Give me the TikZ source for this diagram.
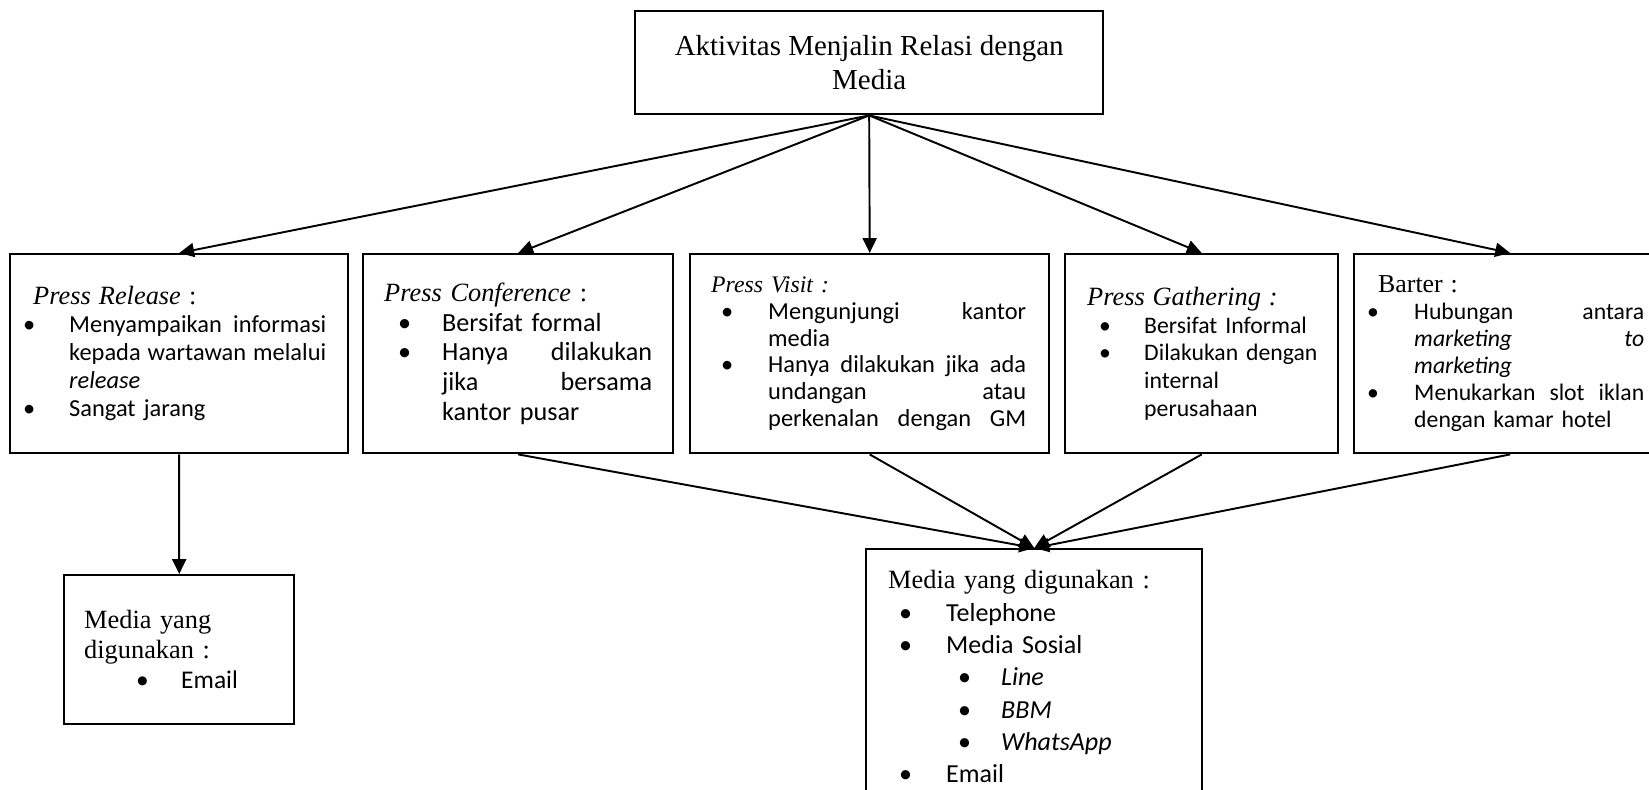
\documentclass[tikz,border=0pt]{standalone}
\usepackage{fontspec}
\setmainfont{Liberation Serif}
\newfontfamily\bodyfont{Carlito}
\usepackage{tikz}
\usetikzlibrary{arrows.meta,positioning}
\newlength{\pxu}
\setlength{\pxu}{0.02cm}
\hyphenpenalty=10000
\exhyphenpenalty=10000
% heading line of a box, and one bullet item (offset, gap, column width in px)
\newcommand{\hdr}[2][15]{\noindent{\rmfamily\fontsize{#1}{#1}\selectfont #2}\par}
\newcommand{\itm}[4]{{\let\\\newline
  \leftskip=\dimexpr#1\pxu+#2\pxu\relax
  \rightskip=\dimexpr\hsize-#1\pxu-#2\pxu-#3\pxu\relax
  \parfillskip=0pt plus 1fil
  \noindent\llap{\makebox[#2\pxu][l]{\textbullet}}#4\par}}
\tikzset{
  >={Triangle[length=8.5pt,width=8pt]},
}

\begin{document}
\begin{tikzpicture}[
  x=0.02cm, y=-0.02cm,
  box/.style={draw, line width=1.4pt, anchor=north west, inner ysep=0pt, align=left},
  arr/.style={->, line width=1.1pt}
]
\useasboundingbox (0,0) rectangle (1649,790);

\node[box, align=center, minimum width=9.36cm, minimum height=2.06cm,
  font=\fontsize{16.5}{19}\selectfont] (top) at (634,10)
  {Aktivitas Menjalin Relasi dengan\\Media};

% the five activities
\node[box, text width=6.24cm, inner xsep=0.26cm, minimum height=3.98cm,
  font=\bodyfont\fontsize{13.9}{15.9}\selectfont] (pr) at (9,253) {%
  \hdr{\hspace*{10\pxu}\textit{Press Release} :}
  \itm{0}{46}{257}{Menyampaikan\hfill informasi\\ kepada\hfill wartawan\hfill melalui\\ \textit{release}}
  \itm{0}{46}{257}{Sangat jarang}};
\node[box, text width=5.36cm, inner xsep=0.42cm, minimum height=3.98cm,
  font=\bodyfont\fontsize{14.9}{17}\selectfont] (pc) at (362,253) {%
  \hdr{\textit{Press Conference} :}
  \itm{14}{44}{210}{Bersifat formal}
  \itm{14}{44}{210}{Hanya\hfill dilakukan\\ jika\hfill bersama\\ kantor pusar}};
\node[box, text width=6.34cm, inner xsep=0.42cm, minimum height=3.98cm,
  font=\bodyfont\fontsize{13.9}{15.3}\selectfont] (pv) at (689,253) {%
  \hdr[13.5]{\textit{Press Visit :}}
  \itm{10}{47}{258}{Mengunjungi\hfill kantor\\ media}
  \itm{10}{47}{258}{Hanya\hfill dilakukan\hfill jika\hfill ada\\ undangan\hfill atau\\ perkenalan\hfill dengan\hfill GM}};
\node[box, text width=4.58cm, inner xsep=0.44cm, minimum height=3.98cm,
  font=\bodyfont\fontsize{13.5}{15.9}\selectfont] (pg) at (1064,253) {%
  \hdr{\textit{Press Gathering :}}
  \itm{12}{45}{180}{Bersifat Informal}
  \itm{12}{45}{180}{Dilakukan dengan\\ internal\\ perusahaan}};
\node[box, text width=5.72cm, inner xsep=0.26cm, minimum height=3.98cm,
  font=\bodyfont\fontsize{13.5}{15.3}\selectfont] (bt) at (1353,253) {%
  \hdr[14.7]{\hspace*{11\pxu}Barter :}
  \itm{0}{47}{230}{Hubungan\hfill antara\\ \textit{marketing}\hfill \textit{to}\\ \textit{marketing}}
  \itm{0}{47}{230}{Menukarkan\hfill slot\hfill iklan\\ dengan kamar hotel}};

% media used
\node[box, text width=3.8cm, inner xsep=0.4cm, minimum height=2.98cm,
  font=\bodyfont\fontsize{14.5}{17}\selectfont] (em1) at (63,574) {%
  \hdr{Media yang}
  \hdr{digunakan :}
  \itm{52}{45}{90}{Email}};
\node[box, text width=5.84cm, inner xsep=0.44cm, minimum height=5.1cm,
  font=\bodyfont\fontsize{14.8}{18.4}\selectfont] (em2) at (865,548) {%
  \hdr{Media yang digunakan :}
  \itm{11}{47}{230}{Telephone}
  \itm{11}{47}{230}{Media Sosial}
  \itm{70}{43}{170}{\textit{Line}}
  \itm{70}{43}{170}{\textit{BBM}}
  \itm{70}{43}{170}{\textit{WhatsApp}}
  \itm{11}{47}{230}{Email}};

\foreach \n in {pr,pc,pv,pg,bt}
  \draw[arr] (top.south) -- (\n.north);
\draw[arr] (pr.south) -- (em1.north);
\foreach \n in {pc,pv,pg,bt}
  \draw[arr] (\n.south) -- (em2.north);
\end{tikzpicture}
\end{document}
